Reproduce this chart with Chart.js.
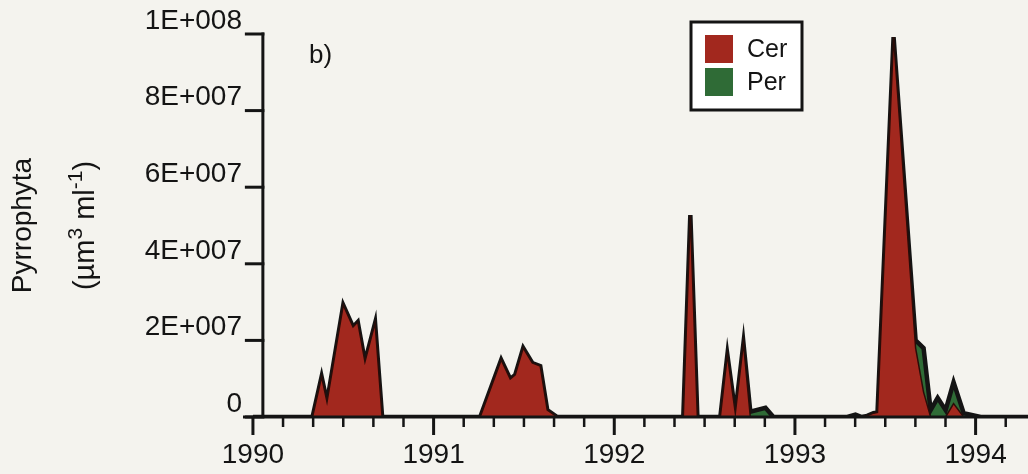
<html lang="en">
<head>
  <meta charset="UTF-8">
  <title>Pyrrophyta</title>
  <style>
    body { margin: 0; background: #f4f3ee; }
    canvas { display: block; }
  </style>
</head>
<body>
  <canvas id="myChart" width="1028" height="474"></canvas>
  <script src="https://cdn.jsdelivr.net/npm/chart.js@4.4.0/dist/chart.umd.min.js"></script>
  <script>
    // sampling dates (decimal years) shared by both series
    const dates = [1990.00, 1990.33, 1990.38, 1990.41, 1990.50, 1990.554, 1990.58, 1990.62, 1990.676, 1990.715,
                   1991.258, 1991.374, 1991.424, 1991.452, 1991.496, 1991.546, 1991.59, 1991.629, 1991.684,
                   1992.382, 1992.421, 1992.46, 1992.587, 1992.626, 1992.67, 1992.715, 1992.753, 1992.837, 1992.881,
                   1993.29, 1993.335, 1993.37, 1993.40, 1993.435, 1993.457, 1993.546, 1993.668, 1993.712, 1993.751,
                   1993.79, 1993.834, 1993.878, 1993.934, 1994.028, 1994.29];
    const cer = [0, 0, 10.5e6, 3.9e6, 29.2e6, 23.5e6, 24.8e6, 14.4e6, 24.5e6, 0,
                 0, 14.9e6, 9.9e6, 11.0e6, 18.0e6, 14.1e6, 13.3e6, 1.8e6, 0,
                 0, 52.7e6, 0, 0, 16.2e6, 1.0e6, 19.3e6, 0, 0, 0,
                 0, 0, 0, 0.3e6, 1.0e6, 1.2e6, 99.2e6, 18.0e6, 6.5e6, 0,
                 0, 0, 3.5e6, 0, 0, 0];
    const per = [0, 0, 0, 0, 0, 0, 0, 0, 0, 0,
                 0, 0, 0, 0, 0, 0, 0, 0, 0,
                 0, 0, 0, 0, 0, 0, 0, 1.4e6, 2.4e6, 0,
                 0, 0.6e6, 0, 0, 0, 0, 0, 2.0e6, 11.5e6, 1.8e6,
                 5.0e6, 1.8e6, 5.6e6, 1.0e6, 0, 0];
    const seriesNames = ['Cer', 'Per'];
    const yearLabels = ['1990', '1991', '1992', '1993', '1994'];
    const yTickLabels = ['0', '2E+007', '4E+007', '6E+007', '8E+007', '1E+008'];

    const FONT = '"Liberation Sans", Arial, Helvetica, sans-serif';
    const RED = '#a2281e';
    const GREEN = '#2f6b36';
    const INK = '#141414';

    const toPoints = (vals) => dates.map((d, i) => ({ x: d, y: vals[i] }));

    // axis lines, y dashes and bimonthly x ticks
    const axesPlugin = {
      id: 'axes',
      afterDatasetsDraw(chart) {
        const { ctx, chartArea, scales: { x, y } } = chart;
        const axisX = x.getPixelForValue(1990.055);
        ctx.save();
        ctx.strokeStyle = INK;
        ctx.lineCap = 'butt';
        ctx.lineWidth = 3;
        ctx.beginPath();
        ctx.moveTo(chartArea.left, chartArea.bottom);
        ctx.lineTo(chartArea.right, chartArea.bottom);
        ctx.moveTo(axisX, chartArea.bottom + 1.5);
        ctx.lineTo(axisX, y.getPixelForValue(1e8) - 1.5);
        ctx.stroke();
        y.ticks.forEach(t => {
          const py = y.getPixelForValue(t.value);
          ctx.beginPath();
          ctx.moveTo(axisX - 18, py);
          ctx.lineTo(axisX + 1.5, py);
          ctx.stroke();
        });
        x.ticks.forEach(t => {
          const px = x.getPixelForValue(t.value);
          const major = Math.abs(t.value - Math.round(t.value)) < 1e-6;
          ctx.lineWidth = major ? 3 : 2.5;
          ctx.beginPath();
          ctx.moveTo(px, chartArea.bottom);
          ctx.lineTo(px, chartArea.bottom + (major ? 18 : 10));
          ctx.stroke();
        });
        ctx.restore();
      }
    };

    // y title, panel letter and boxed legend
    const textPlugin = {
      id: 'texts',
      afterDraw(chart) {
        const { ctx, chartArea } = chart;
        const midY = (chartArea.top + chartArea.bottom) / 2;
        ctx.save();
        ctx.fillStyle = INK;
        ctx.textBaseline = 'middle';

        ctx.save();
        ctx.translate(23, midY);
        ctx.rotate(-Math.PI / 2);
        ctx.textAlign = 'center';
        ctx.font = '28px ' + FONT;
        ctx.fillText('Pyrrophyta', 0, 0);
        ctx.restore();

        ctx.save();
        ctx.translate(86, midY);
        ctx.rotate(-Math.PI / 2);
        ctx.textAlign = 'left';
        const parts = [['(µm', false], ['3', true], [' ml', false], ['-1', true], [')', false]];
        const big = '29px ' + FONT, small = '21px ' + FONT;
        let total = 0;
        parts.forEach(([s, sup]) => { ctx.font = sup ? small : big; total += ctx.measureText(s).width; });
        let cx = -total / 2;
        parts.forEach(([s, sup]) => {
          ctx.font = sup ? small : big;
          ctx.fillText(s, cx, sup ? -10 : 0);
          cx += ctx.measureText(s).width;
        });
        ctx.restore();

        ctx.font = '26px ' + FONT;
        ctx.textAlign = 'left';
        ctx.fillText('b)', 309, 56);

        // legend
        const lx = 691, ly = 22, lw = 111, lh = 88;
        ctx.fillStyle = '#ffffff';
        ctx.fillRect(lx, ly, lw, lh);
        ctx.strokeStyle = INK;
        ctx.lineWidth = 3;
        ctx.strokeRect(lx, ly, lw, lh);
        chart.data.datasets.forEach((ds, i) => {
          const top = ly + 13 + i * 33;
          ctx.fillStyle = ds.backgroundColor;
          ctx.fillRect(lx + 14, top, 28, 28);
          ctx.fillStyle = INK;
          ctx.font = '25px ' + FONT;
          ctx.fillText(ds.label, lx + 56, top + 15);
        });
        ctx.restore();
      }
    };

    const ctx = document.getElementById('myChart');

    const myChart = new Chart(ctx, {
      type: 'line',
      data: {
        datasets: [{
          label: seriesNames[0],
          data: toPoints(cer),
          backgroundColor: RED,
          borderColor: '#2a0c08',
          borderWidth: 1.5,
          fill: 'origin',
          pointRadius: 0,
          tension: 0
        }, {
          label: seriesNames[1],
          data: toPoints(per),
          backgroundColor: GREEN,
          borderColor: INK,
          borderWidth: 4.5,
          fill: '-1',
          pointRadius: 0,
          tension: 0
        }]
      },
      options: {
        responsive: false,
        devicePixelRatio: 1,
        animation: false,
        layout: { padding: { top: 34, left: 0, right: 0, bottom: 0 } },
        plugins: {
          legend: { display: false },
          tooltip: { enabled: false }
        },
        scales: {
          x: {
            type: 'linear',
            min: 1989.945,
            max: 1994.29,
            grid: { display: false, drawTicks: false },
            border: { display: false },
            afterBuildTicks: (scale) => {
              const ticks = [];
              for (let i = 0; i <= 25; i++) ticks.push({ value: 1990 + i / 6 });
              scale.ticks = ticks;
            },
            afterFit: (scale) => { scale.height = 57; },
            ticks: {
              autoSkip: false,
              maxRotation: 0,
              padding: 21,
              color: INK,
              font: { family: FONT, size: 28 },
              callback: (v) => {
                const r = Math.round(v);
                return Math.abs(v - r) < 1e-6 ? yearLabels[r - 1990] : '';
              }
            }
          },
          y: {
            stacked: true,
            min: 0,
            max: 1e8,
            grid: { display: false, drawTicks: false },
            border: { display: false },
            afterFit: (scale) => { scale.width = 243; },
            ticks: {
              stepSize: 2e7,
              padding: 1,
              labelOffset: -13,
              color: INK,
              font: { family: FONT, size: 28 },
              callback: (v, i) => yTickLabels[i]
            }
          }
        }
      },
      plugins: [axesPlugin, textPlugin]
    });
  </script>
</body>
</html>
